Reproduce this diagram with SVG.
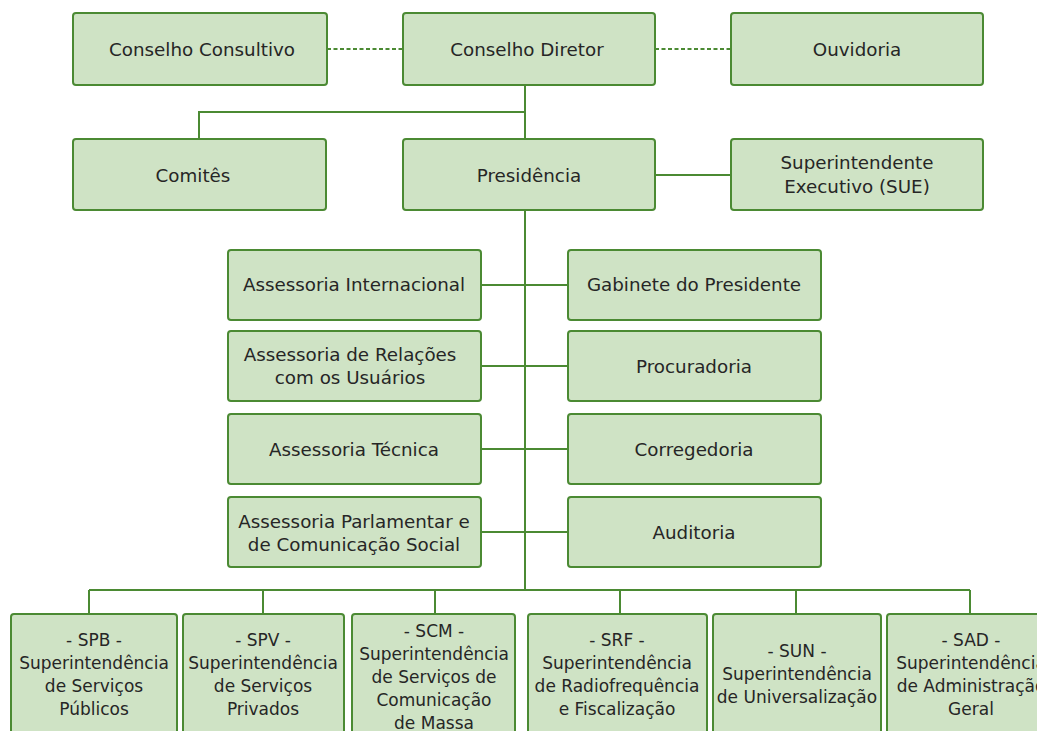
<svg xmlns="http://www.w3.org/2000/svg" width="1037" height="731" viewBox="0 0 1037 731">
<style>
.box{fill:#cfe3c5;stroke:#4b8a33;stroke-width:2}
.ln{stroke:#4b8a33;stroke-width:2;fill:none}
.dash{stroke:#4b8a33;stroke-width:2;fill:none;stroke-dasharray:4 2.5}
text{font-family:"DejaVu Sans","Liberation Sans",sans-serif;font-size:18.3px;fill:#262626;text-anchor:middle}
.sm{font-size:17px}
</style>
<rect width="1037" height="731" fill="#ffffff"/>
<g id="connectors">
<line class="dash" x1="327" y1="49" x2="403" y2="49"/>
<line class="dash" x1="655" y1="49" x2="731" y2="49"/>
<line class="ln" x1="525" y1="85" x2="525" y2="139"/>
<polyline class="ln" points="525,112 199,112 199,139"/>
<line class="ln" x1="655" y1="175" x2="731" y2="175"/>
<line class="ln" x1="525" y1="210" x2="525" y2="590"/>
<line class="ln" x1="481" y1="285" x2="568" y2="285"/>
<line class="ln" x1="481" y1="366" x2="568" y2="366"/>
<line class="ln" x1="481" y1="449" x2="568" y2="449"/>
<line class="ln" x1="481" y1="532" x2="568" y2="532"/>
<line class="ln" x1="89" y1="590" x2="970" y2="590"/>
<line class="ln" x1="89" y1="590" x2="89" y2="614"/>
<line class="ln" x1="263" y1="590" x2="263" y2="614"/>
<line class="ln" x1="435" y1="590" x2="435" y2="614"/>
<line class="ln" x1="620" y1="590" x2="620" y2="614"/>
<line class="ln" x1="796" y1="590" x2="796" y2="614"/>
<line class="ln" x1="970" y1="590" x2="970" y2="614"/>
</g>
<g id="conselho-consultivo"><rect class="box" x="73" y="13" width="254" height="72" rx="3"/><text x="202" y="56">Conselho Consultivo</text></g>
<g id="conselho-diretor"><rect class="box" x="403" y="13" width="252" height="72" rx="3"/><text x="527" y="56">Conselho Diretor</text></g>
<g id="ouvidoria"><rect class="box" x="731" y="13" width="252" height="72" rx="3"/><text x="857" y="56">Ouvidoria</text></g>
<g id="comites"><rect class="box" x="73" y="139" width="253" height="71" rx="3"/><text x="193" y="182">Comitês</text></g>
<g id="presidencia"><rect class="box" x="403" y="139" width="252" height="71" rx="3"/><text x="529" y="182">Presidência</text></g>
<g id="sue"><rect class="box" x="731" y="139" width="252" height="71" rx="3"/><text x="857" y="169">Superintendente</text><text x="857" y="193">Executivo (SUE)</text></g>
<g id="assessoria-internacional"><rect class="box" x="228" y="250" width="253" height="70" rx="3"/><text x="354" y="291">Assessoria Internacional</text></g>
<g id="gabinete"><rect class="box" x="568" y="250" width="253" height="70" rx="3"/><text x="694" y="291">Gabinete do Presidente</text></g>
<g id="assessoria-relacoes"><rect class="box" x="228" y="331" width="253" height="70" rx="3"/><text x="350" y="361">Assessoria de Relações</text><text x="350" y="384">com os Usuários</text></g>
<g id="procuradoria"><rect class="box" x="568" y="331" width="253" height="70" rx="3"/><text x="694" y="373">Procuradoria</text></g>
<g id="assessoria-tecnica"><rect class="box" x="228" y="414" width="253" height="70" rx="3"/><text x="354" y="456">Assessoria Técnica</text></g>
<g id="corregedoria"><rect class="box" x="568" y="414" width="253" height="70" rx="3"/><text x="694" y="456">Corregedoria</text></g>
<g id="assessoria-parlamentar"><rect class="box" x="228" y="497" width="253" height="70" rx="3"/><text x="354" y="528">Assessoria Parlamentar e</text><text x="354" y="551">de Comunicação Social</text></g>
<g id="auditoria"><rect class="box" x="568" y="497" width="253" height="70" rx="3"/><text x="694" y="539">Auditoria</text></g>
<g id="spb"><rect class="box" x="11" y="614" width="166" height="130" rx="3"/><text class="sm" x="94" y="646">- SPB -</text><text class="sm" x="94" y="669">Superintendência</text><text class="sm" x="94" y="692">de Serviços</text><text class="sm" x="94" y="715">Públicos</text></g>
<g id="spv"><rect class="box" x="183" y="614" width="161" height="130" rx="3"/><text class="sm" x="263" y="646">- SPV -</text><text class="sm" x="263" y="669">Superintendência</text><text class="sm" x="263" y="692">de Serviços</text><text class="sm" x="263" y="715">Privados</text></g>
<g id="scm"><rect class="box" x="352" y="614" width="163" height="130" rx="3"/><text class="sm" x="434" y="637">- SCM -</text><text class="sm" x="434" y="660">Superintendência</text><text class="sm" x="434" y="683">de Serviços de</text><text class="sm" x="434" y="706">Comunicação</text><text class="sm" x="434" y="729">de Massa</text></g>
<g id="srf"><rect class="box" x="528" y="614" width="179" height="130" rx="3"/><text class="sm" x="617" y="646">- SRF -</text><text class="sm" x="617" y="669">Superintendência</text><text class="sm" x="617" y="692">de Radiofrequência</text><text class="sm" x="617" y="715">e Fiscalização</text></g>
<g id="sun"><rect class="box" x="713" y="614" width="168" height="130" rx="3"/><text class="sm" x="797" y="657">- SUN -</text><text class="sm" x="797" y="680">Superintendência</text><text class="sm" x="797" y="703">de Universalização</text></g>
<g id="sad"><rect class="box" x="887" y="614" width="168" height="130" rx="3"/><text class="sm" x="971" y="646">- SAD -</text><text class="sm" x="971" y="669">Superintendência</text><text class="sm" x="971" y="692">de Administração</text><text class="sm" x="971" y="715">Geral</text></g>
</svg>
